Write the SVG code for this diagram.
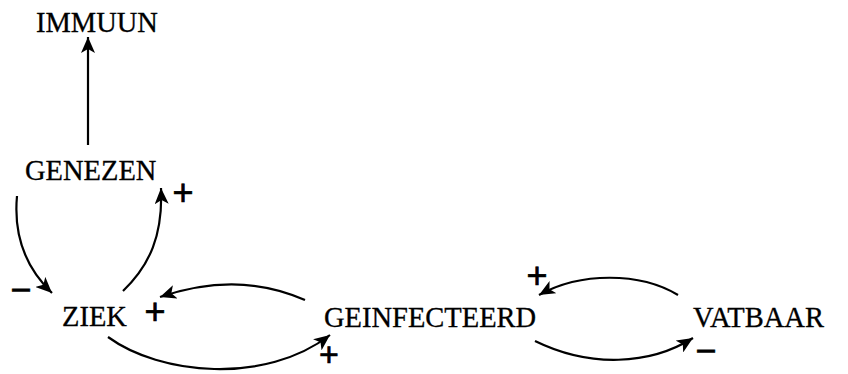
<svg xmlns="http://www.w3.org/2000/svg" width="848" height="374" viewBox="0 0 848 374">
  <style>
    .label { font-family: "Liberation Serif", "Times New Roman", serif; font-size: 28.5px; fill: #000; stroke: #000; stroke-width: 0.3; }
    .sign { font-family: "Liberation Sans", Arial, sans-serif; font-size: 36px; fill: #000; stroke: #000; stroke-width: 0.7; text-anchor: middle; }
    .link { fill: none; stroke: #000; stroke-width: 2.2; marker-end: url(#head); }
  </style>
  <defs>
    <marker id="head" markerUnits="userSpaceOnUse" markerWidth="18" markerHeight="14" refX="16" refY="7" orient="auto">
      <path d="M0,0 L16,7 L0,14 L4,7 Z" fill="#000"/>
    </marker>
  </defs>
  <rect width="848" height="374" fill="#fff"/>

  <g id="nodes">
    <g id="immuun"><text class="label" x="36" y="32">IMMUUN</text></g>
    <g id="genezen"><text class="label" x="25" y="180">GENEZEN</text></g>
    <g id="ziek"><text class="label" x="62" y="326">ZIEK</text></g>
    <g id="geinfecteerd"><text class="label" x="324" y="327">GEINFECTEERD</text></g>
    <g id="vatbaar"><text class="label" x="693" y="327">VATBAAR</text></g>
  </g>

  <g id="connectors">
    <path class="link" d="M88,145 L88,37"/>
    <path class="link" d="M17,196 C13,240 28,270 52,293"/>
    <path class="link" d="M123,291 C150,265 163,235 161,188"/>
    <path class="link" d="M305,300 C260,280 210,280 160,297"/>
    <path class="link" d="M108,337 C160,375 265,385 330,335"/>
    <path class="link" d="M678,295 C640,272 580,272 539,295"/>
    <path class="link" d="M535,341 C590,368 650,365 693,338"/>
  </g>

  <g id="signs">
    <text class="sign" x="183" y="205">+</text>
    <text class="sign" x="21" y="302">−</text>
    <text class="sign" x="155" y="324">+</text>
    <text class="sign" x="329" y="366" style="font-size:34px">+</text>
    <text class="sign" x="537" y="288">+</text>
    <text class="sign" x="706" y="363">−</text>
  </g>
</svg>
